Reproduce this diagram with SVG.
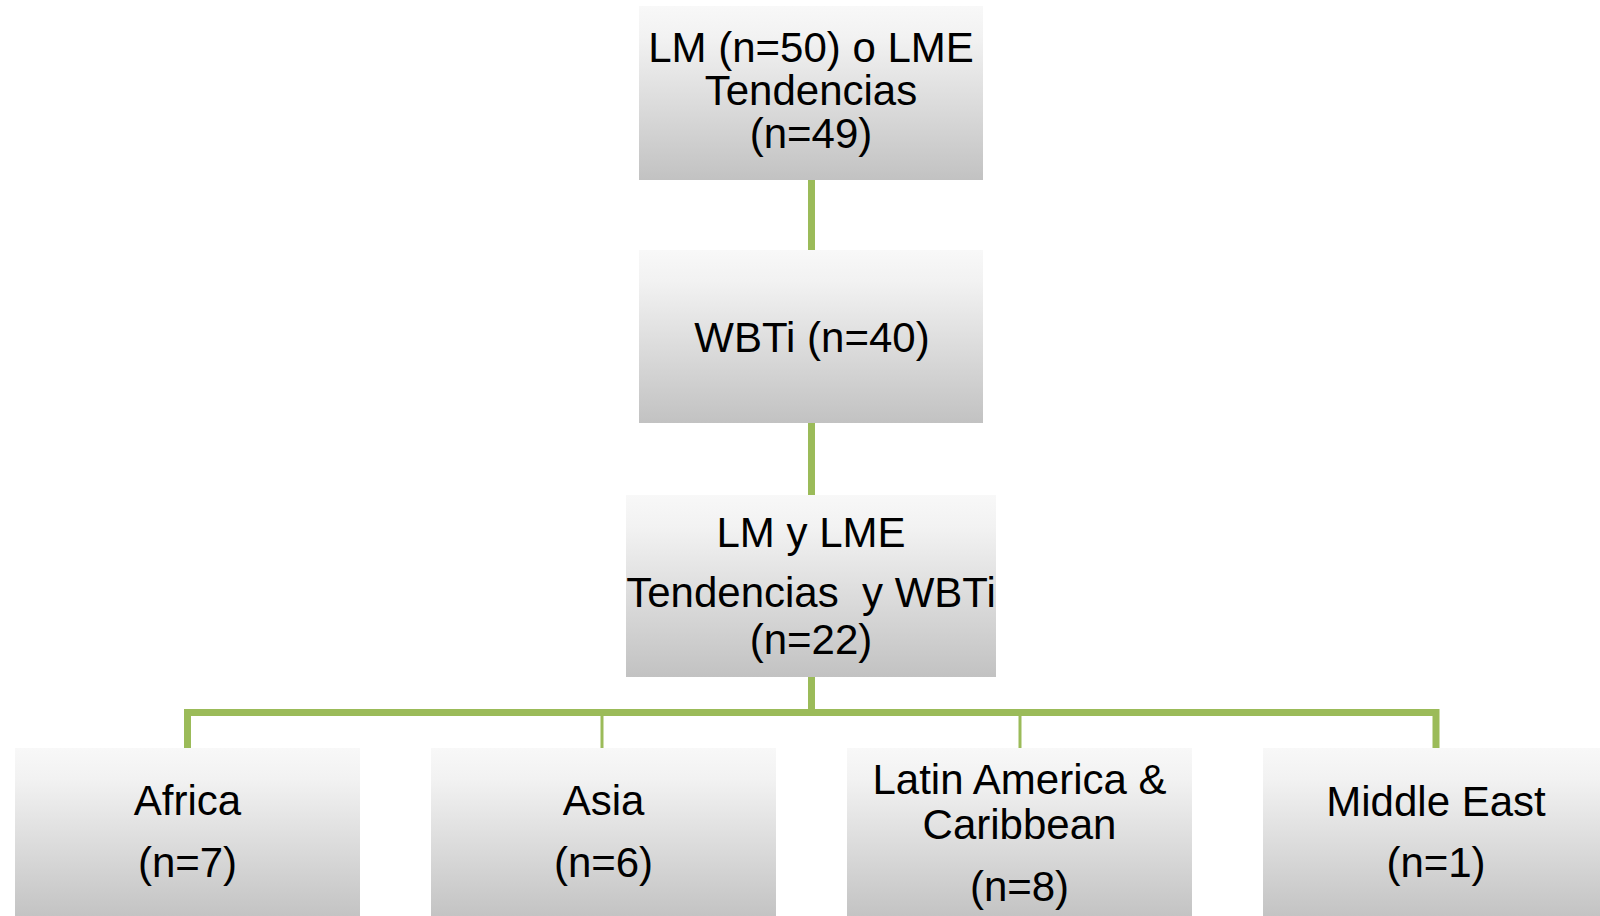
<svg xmlns="http://www.w3.org/2000/svg" width="1600" height="916" viewBox="0 0 1600 916">
  <defs>
    <linearGradient id="g" x1="0" y1="0" x2="0" y2="1">
      <stop offset="0" stop-color="#f8f8f8"/>
      <stop offset="0.18" stop-color="#f2f2f2"/>
      <stop offset="1" stop-color="#c2c2c2"/>
    </linearGradient>
  </defs>
  <style>
    .box { fill: url(#g); }
    .t { font-family: "Liberation Sans", Arial, sans-serif; font-size: 42px; fill: #000; text-anchor: middle; }
    .c { stroke: #9bbb59; fill: none; }
    .thick { stroke-width: 7; }
    .thin { stroke-width: 3; }
  </style>
  <rect width="1600" height="916" fill="#ffffff"/>
  <g id="connectors">
    <line class="c thick" x1="811.5" y1="180" x2="811.5" y2="250"/>
    <line class="c thick" x1="811.5" y1="423" x2="811.5" y2="495"/>
    <line class="c thick" x1="811.5" y1="677" x2="811.5" y2="712.5"/>
    <polyline class="c thick" points="187.5,748 187.5,712.5 1436,712.5 1436,748"/>
    <line class="c thin" x1="602" y1="712.5" x2="602" y2="748"/>
    <line class="c thin" x1="1020" y1="712.5" x2="1020" y2="748"/>
  </g>
  <g id="node-lm">
    <rect class="box" x="639" y="6" width="344" height="174"/>
    <text class="t" x="811" y="62">LM (n=50) o LME</text>
    <text class="t" x="811" y="105">Tendencias</text>
    <text class="t" x="811" y="148">(n=49)</text>
  </g>
  <g id="node-wbti">
    <rect class="box" x="639" y="250" width="344" height="173"/>
    <text class="t" x="812" y="352">WBTi (n=40)</text>
  </g>
  <g id="node-both">
    <rect class="box" x="626" y="495" width="370" height="182"/>
    <text class="t" x="811" y="547">LM y LME</text>
    <text class="t" x="811" y="607" xml:space="preserve">Tendencias  y WBTi</text>
    <text class="t" x="811" y="654">(n=22)</text>
  </g>
  <g id="node-africa">
    <rect class="box" x="15" y="748" width="345" height="172"/>
    <text class="t" x="187.5" y="815">Africa</text>
    <text class="t" x="187.5" y="877">(n=7)</text>
  </g>
  <g id="node-asia">
    <rect class="box" x="431" y="748" width="345" height="172"/>
    <text class="t" x="603.5" y="815">Asia</text>
    <text class="t" x="603.5" y="877">(n=6)</text>
  </g>
  <g id="node-latam">
    <rect class="box" x="847" y="748" width="345" height="172"/>
    <text class="t" x="1019.5" y="794">Latin America &amp;</text>
    <text class="t" x="1019.5" y="839">Caribbean</text>
    <text class="t" x="1019.5" y="901">(n=8)</text>
  </g>
  <g id="node-me">
    <rect class="box" x="1263" y="748" width="345" height="172"/>
    <text class="t" x="1436" y="816">Middle East</text>
    <text class="t" x="1436" y="877">(n=1)</text>
  </g>
</svg>
